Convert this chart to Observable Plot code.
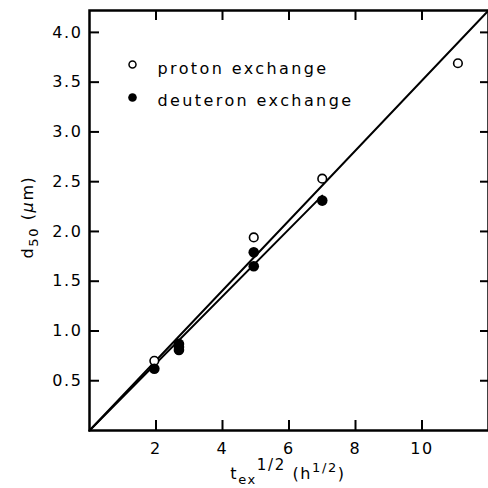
<!DOCTYPE html>
<html><head><meta charset="utf-8">
<script src="https://cdn.jsdelivr.net/npm/d3@7"></script>
<script src="https://cdn.jsdelivr.net/npm/@observablehq/plot@0.6"></script>
</head><body style="margin:0;background:#fff"><div id="chart"></div>
<script>
// Proton exchange (open circles)
const protonX = [1.95, 4.94, 7.0, 11.08];
const protonY = [0.70, 1.94, 2.53, 3.69];
// Deuteron exchange (filled circles)
const deutX = [1.95, 2.69, 2.69, 2.69, 4.94, 4.94, 7.0];
const deutY = [0.62, 0.87, 0.84, 0.81, 1.79, 1.65, 2.31];
// Fit lines
const protonFitX = [0, 12];
const protonFitY = [0, 4.22];
const deutFitX = [0, 7.0];
const deutFitY = [0, 2.36];
// Ticks & labels
const xTicks = [2, 4, 6, 8, 10];
const yTicks = [0.5, 1.0, 1.5, 2.0, 2.5, 3.0, 3.5, 4.0];
const legendLabels = ["proton exchange", "deuteron exchange"];

const proton = protonX.map((x, i) => ({x, y: protonY[i]}));
const deut = deutX.map((x, i) => ({x, y: deutY[i]}));
const pFit = protonFitX.map((x, i) => ({x, y: protonFitY[i]}));
const dFit = deutFitX.map((x, i) => ({x, y: deutFitY[i]}));

const W = 488, H = 488, mL = 89, mR = 0, mT = 10, mB = 58;
const xDom = [0, 12], yDom = [0, 4.22];
const fw = W - mL - mR, fh = H - mT - mB;
// tick lengths (10 px inward) expressed in data units
const tyLen = 10 * (yDom[1] - yDom[0]) / fh;
const txLen = 10 * (xDom[1] - xDom[0]) / fw;
const txLenR = 8 * (xDom[1] - xDom[0]) / fw;

const chart = Plot.plot({
  width: W, height: H,
  marginLeft: mL, marginRight: mR, marginTop: mT, marginBottom: mB,
  style: {fontFamily: "DejaVu Sans, sans-serif", fontSize: "16px"},
  x: {domain: xDom},
  y: {domain: yDom},
  marks: [
    Plot.line(pFit, {x: "x", y: "y", stroke: "#000", strokeWidth: 2}),
    Plot.line(dFit, {x: "x", y: "y", stroke: "#000", strokeWidth: 2}),
    Plot.dot(proton, {x: "x", y: "y", r: 4.3, stroke: "#000", strokeWidth: 1.6, fill: "#fff"}),
    Plot.dot(deut, {x: "x", y: "y", r: 5.3, fill: "#000", stroke: "none"}),
    // inward ticks on all four sides
    Plot.ruleX(xTicks, {x: d => d, y1: yDom[0], y2: yDom[0] + tyLen, stroke: "#000", strokeWidth: 2}),
    Plot.ruleX(xTicks, {x: d => d, y1: yDom[1], y2: yDom[1] - tyLen, stroke: "#000", strokeWidth: 2}),
    Plot.ruleY(yTicks, {y: d => d, x1: xDom[0], x2: xDom[0] + txLen, stroke: "#000", strokeWidth: 2}),
    Plot.ruleY(yTicks, {y: d => d, x1: xDom[1], x2: xDom[1] - txLenR, stroke: "#000", strokeWidth: 2}),
    Plot.frame({stroke: "#000", strokeWidth: 2.5}),
    Plot.axisX(xTicks, {anchor: "bottom", tickSize: 0, tickPadding: 12, label: null, fontSize: 16, style: "letter-spacing:1.6px"}),
    Plot.axisY(yTicks, {anchor: "left", tickSize: 0, tickPadding: 7, label: null, fontSize: 16, tickFormat: d3.format(".1f")}),
    // legend
    Plot.dot([legendLabels[0]], {frameAnchor: "top-left", dx: 43, dy: 54, r: 3.5, stroke: "#000", strokeWidth: 1.5, fill: "#fff"}),
    Plot.dot([legendLabels[1]], {frameAnchor: "top-left", dx: 43, dy: 87, r: 4.3, fill: "#000"}),
    Plot.text([legendLabels[0]], {text: d => d, frameAnchor: "top-left", dx: 68, dy: 52, textAnchor: "start", fontSize: 16, fill: "#000"}),
    Plot.text([legendLabels[1]], {text: d => d, frameAnchor: "top-left", dx: 68, dy: 84, textAnchor: "start", fontSize: 16, fill: "#000"})
  ]
});
document.getElementById("chart").appendChild(chart);

const svg = d3.select(chart);
svg.selectAll("text").style("letter-spacing", "1.6px");
svg.selectAll("text").filter(function () { return legendLabels.includes(this.textContent); })
  .style("letter-spacing", "2.4px");

// Axis titles with sub/superscripts
const xt = svg.append("text").attr("x", 288).attr("y", 479).attr("text-anchor", "middle")
  .attr("font-size", 16).attr("fill", "#000").style("letter-spacing", "1.6px");
xt.append("tspan").text("t");
xt.append("tspan").attr("dy", 5).attr("font-size", 13).text("ex");
xt.append("tspan").attr("dy", -14).attr("font-size", 15).text("1/2");
xt.append("tspan").attr("dy", 9).text(" (h");
xt.append("tspan").attr("dy", -7).attr("font-size", 13).text("1/2");
xt.append("tspan").attr("dy", 7).text(")");

const yt = svg.append("text").attr("transform", "translate(33,217) rotate(-90)").attr("text-anchor", "middle")
  .attr("font-size", 16).attr("fill", "#000").style("letter-spacing", "1.6px");
yt.append("tspan").text("d");
yt.append("tspan").attr("dy", 5).attr("font-size", 13).text("50");
yt.append("tspan").attr("dy", -5).text(" (");
yt.append("tspan").attr("font-style", "italic").text("μ");
yt.append("tspan").text("m)");
</script>
</body></html>
